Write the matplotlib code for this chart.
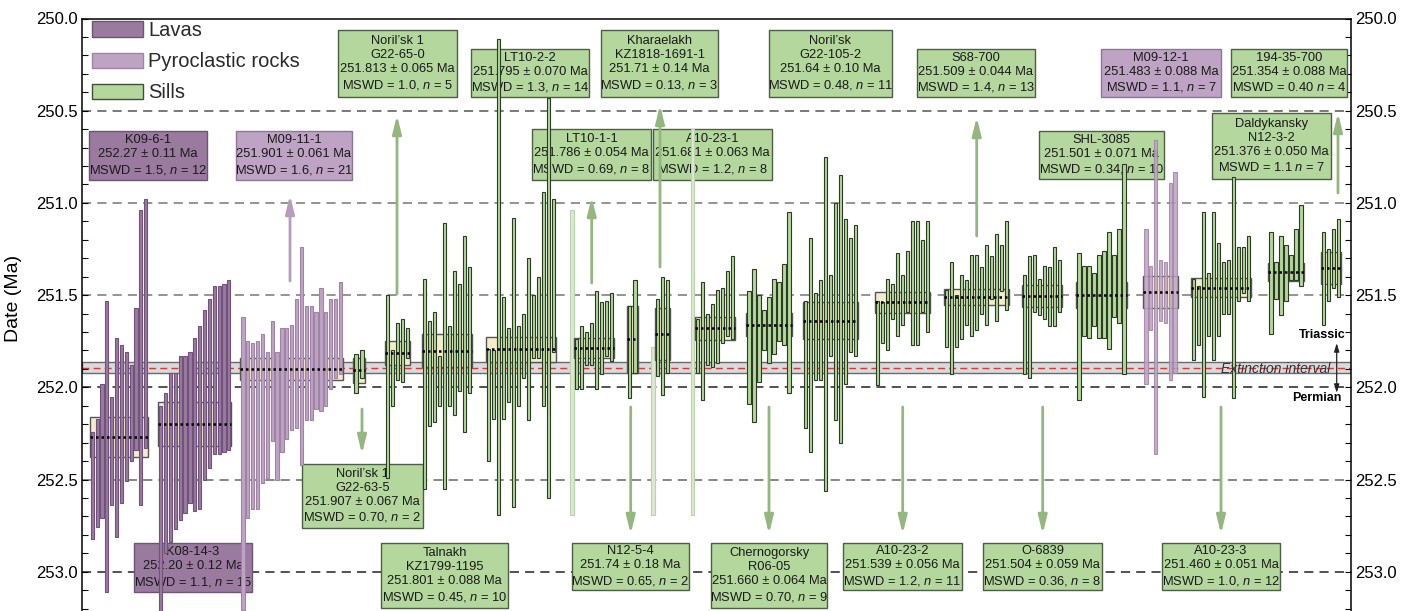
import numpy as np
import matplotlib
matplotlib.use('Agg')
import matplotlib.pyplot as plt
from matplotlib.patches import Rectangle, Patch
from matplotlib.ticker import MultipleLocator, FormatStrFormatter

plt.rcParams['font.family'] = ['Liberation Sans', 'DejaVu Sans']
plt.rcParams['mathtext.fontset'] = 'custom'
plt.rcParams['mathtext.it'] = 'Liberation Sans:italic'
plt.rcParams['mathtext.rm'] = 'Liberation Sans'

# ---- single zircon dates: (young end, old end) of the 2 sigma bar, Ma ----
k09_6_1 = [(252.24, 252.82), (252.17, 252.76), (251.98, 252.71), (251.53, 253.11),
           (252.05, 252.64), (251.73, 252.81), (251.77, 252.63), (251.81, 252.51),
           (251.88, 252.40), (251.57, 252.34), (251.04, 252.64), (250.98, 252.33)]
k08_14_3 = [(252.10, 253.25), (252.03, 252.90), (251.92, 252.84), (251.92, 252.77),
            (251.83, 252.72), (251.83, 252.68), (251.81, 252.63), (251.73, 252.67),
            (251.67, 252.66), (251.58, 252.50), (251.52, 252.44), (251.45, 252.36),
            (251.45, 252.36), (251.44, 252.35), (251.42, 252.34)]
m09_11_1 = [(251.62, 253.21), (251.75, 252.71), (251.76, 252.66), (251.75, 252.66),
            (251.71, 252.52), (251.81, 252.49), (251.64, 252.29), (251.81, 252.50),
            (251.68, 252.35), (251.68, 252.28), (251.66, 252.23), (251.52, 252.22),
            (251.24, 252.42), (251.56, 252.18), (251.56, 252.18), (251.59, 252.12),
            (251.46, 252.13), (251.59, 252.10), (251.52, 252.01), (251.52, 251.95),
            (251.43, 251.93)]
g22_63_5 = [(251.82, 252.03), (251.80, 251.95)]
g22_65_0 = [(251.50, 252.49), (251.80, 252.10), (251.65, 251.96), (251.63, 251.97),
            (251.68, 251.84)]
kz1799 = [(251.41, 252.55), (251.64, 252.21), (251.59, 252.19), (251.83, 252.10),
          (251.11, 252.55), (251.67, 252.10), (251.37, 252.15), (251.44, 252.02),
          (251.18, 252.24), (251.35, 252.03)]
lt10_2_2 = [(251.79, 252.40), (251.80, 252.17), (250.11, 252.69), (251.51, 252.17),
            (251.68, 252.08), (251.08, 252.65), (251.67, 252.10), (251.60, 251.95),
            (251.30, 252.18), (251.50, 251.84), (251.40, 251.84), (250.94, 252.10),
            (250.43, 252.60), (250.98, 251.81)]
lt10_1_1 = [(251.74, 252.01), (251.67, 252.01), (251.70, 251.88), (251.65, 251.88),
            (251.48, 252.01), (251.54, 251.93), (251.53, 251.83), (251.49, 251.86)]
n12_5_4 = [(251.56, 252.06), (251.42, 251.92)]
kz1818 = [(251.52, 251.94), (251.40, 252.04), (251.42, 251.92)]
a10_23_1 = [(251.63, 251.92), (251.43, 252.07), (251.60, 251.88), (251.55, 251.89),
            (251.47, 251.87), (251.46, 251.76), (251.37, 251.72), (251.29, 251.74)]
r06_05 = [(251.48, 252.09), (251.36, 252.19), (251.50, 251.97), (251.58, 251.80),
          (251.51, 251.87), (251.41, 251.82), (251.43, 251.75), (251.33, 251.77),
          (251.05, 252.03)]
g22_105_2 = [(251.53, 252.22), (251.19, 252.35), (251.49, 251.96), (251.42, 251.96),
             (250.75, 252.56), (251.39, 251.83), (251.00, 252.18), (250.85, 252.30),
             (251.09, 251.98), (251.19, 251.81), (251.12, 251.83)]
a10_23_2 = [(251.53, 251.99), (251.54, 251.76), (251.41, 251.80), (251.44, 251.63),
            (251.27, 251.72), (251.39, 251.66), (251.26, 251.59), (251.10, 251.77),
            (251.10, 251.77), (251.20, 251.59), (251.10, 251.70)]
s68_700 = [(251.47, 251.78), (251.32, 251.93), (251.50, 251.78), (251.39, 251.74),
           (251.42, 251.66), (251.28, 251.72), (251.28, 251.69), (251.35, 251.60),
           (251.23, 251.66), (251.29, 251.52), (251.17, 251.64), (251.23, 251.48),
           (251.10, 251.58)]
o_6839 = [(251.39, 251.93), (251.29, 251.95), (251.28, 251.59), (251.41, 251.61),
          (251.34, 251.63), (251.35, 251.67), (251.24, 251.67), (251.31, 251.59)]
shl_3085 = [(251.27, 252.07), (251.34, 251.72), (251.34, 251.73), (251.38, 251.67),
            (251.28, 251.73), (251.26, 251.73), (251.16, 251.79), (251.28, 251.62),
            (251.14, 251.65), (250.79, 251.93)]
m09_12_1 = [(251.14, 251.98), (251.34, 251.69), (250.66, 252.36), (251.31, 251.64),
            (251.32, 251.65), (250.89, 251.96), (250.83, 251.92)]
a10_23_3 = [(251.41, 251.85), (251.45, 251.77), (251.05, 252.05), (251.38, 251.72),
            (251.05, 251.85), (251.22, 251.72), (251.32, 251.60), (251.31, 251.60),
            (250.86, 252.06), (251.24, 251.53), (251.24, 251.49), (251.18, 251.53)]
n12_3_2 = [(251.16, 251.71), (251.32, 251.52), (251.18, 251.61), (251.23, 251.53),
           (251.28, 251.42), (251.14, 251.42), (251.01, 251.45)]
s194_35_700 = [(251.16, 251.66), (251.25, 251.53), (251.14, 251.46), (251.09, 251.51)]

# analyses left out of the means (pale bars)
excluded = [(251.04, 252.69), (251.78, 252.69), (250.60, 252.69)]

# ---- weighted means ----
names = ['K09-6-1', 'K08-14-3', 'M09-11-1', 'G22-63-5', 'G22-65-0', 'KZ1799-1195',
         'LT10-2-2', 'LT10-1-1', 'N12-5-4', 'KZ1818-1691-1', 'A10-23-1', 'R06-05',
         'G22-105-2', 'A10-23-2', 'S68-700', 'O-6839', 'SHL-3085', 'M09-12-1',
         'A10-23-3', 'N12-3-2', '194-35-700']
kinds = ['lava', 'lava', 'pyro', 'sill', 'sill', 'sill', 'sill', 'sill', 'sill', 'sill',
         'sill', 'sill', 'sill', 'sill', 'sill', 'sill', 'sill', 'pyro', 'sill', 'sill',
         'sill']
means = [252.27, 252.20, 251.901, 251.907, 251.813, 251.801, 251.795, 251.786, 251.74,
         251.71, 251.681, 251.660, 251.64, 251.539, 251.509, 251.504, 251.501, 251.483,
         251.460, 251.376, 251.354]
errs = [0.11, 0.12, 0.061, 0.067, 0.065, 0.088, 0.070, 0.054, 0.18, 0.14, 0.063, 0.064,
        0.10, 0.056, 0.044, 0.059, 0.071, 0.088, 0.051, 0.050, 0.088]
mswd = ['1.5,', '1.1,', '1.6,', '0.70,', '1.0,', '0.45,', '1.3,', '0.69,', '0.65,', '0.13,',
        '1.2,', '0.70,', '0.48,', '1.2,', '1.4,', '0.36,', '0.34,', '1.1,', '1.0,', '1.1',
        '0.40']
err_txt = ['0.11', '0.12', '0.061', '0.067', '0.065', '0.088', '0.070', '0.054', '0.18',
           '0.14', '0.063', '0.064', '0.10', '0.056', '0.044', '0.059', '0.071', '0.088',
           '0.051', '0.050', '0.088']
mean_txt = ['252.27', '252.20', '251.901', '251.907', '251.813', '251.801', '251.795',
            '251.786', '251.74', '251.71', '251.681', '251.660', '251.64', '251.539',
            '251.509', '251.504', '251.501', '251.483', '251.460', '251.376', '251.354']
localities = {'G22-63-5': "Noril\u2019sk 1", 'G22-65-0': "Noril\u2019sk 1",
              'KZ1799-1195': 'Talnakh', 'KZ1818-1691-1': 'Kharaelakh',
              'R06-05': 'Chernogorsky', 'G22-105-2': "Noril\u2019sk",
              'N12-3-2': 'Daldykansky'}
bar_sets = [k09_6_1, k08_14_3, m09_11_1, g22_63_5, g22_65_0, kz1799, lt10_2_2, lt10_1_1,
            n12_5_4, kz1818, a10_23_1, r06_05, g22_105_2, a10_23_2, s68_700, o_6839,
            shl_3085, m09_12_1, a10_23_3, n12_3_2, s194_35_700]

# ---- layout (picture pixels) ----
W, H = 1401, 611
X0, X1 = 82, 1351
Y_TOP, PX_TOP, PX_PER_MA = 250.0, 18.5, 184.4


def py(y):
    return Y_TOP + (y - PX_TOP) / PX_PER_MA


# first bar x and spacing of each group
bar_x0 = [92.3, 160.7, 243, 356, 387.7, 424.3, 488.3, 576.7, 629.3, 657.3, 697.3, 749,
          805.7, 877.7, 946.7, 1024.3, 1079, 1146, 1193.3, 1271, 1323.3]
bar_dx = [4.85, 4.87, 4.87, 6, 5, 5, 5, 5, 5.7, 5, 5, 5, 5, 5, 5, 5, 5, 4.83, 5, 5, 5]
excluded_x = [572, 653, 692.3]
# label boxes: left, right, top, bottom
label_box = [(89, 207, 131, 180), (134, 252, 543, 592), (236, 352, 131, 180),
             (302, 423, 464, 528), (338, 457, 30, 97), (381, 508, 543, 608),
             (471, 589, 49, 97), (532, 651, 129, 180), (572, 689, 543, 590),
             (601, 718, 30, 97), (653, 772, 129, 180), (711, 827, 543, 608),
             (769, 892, 30, 97), (843, 962, 543, 590), (917, 1035, 49, 97),
             (983, 1102, 543, 590), (1039, 1164, 131, 179), (1101, 1221, 49, 97),
             (1162, 1280, 543, 590), (1212, 1331, 113, 179), (1231, 1347, 49, 97)]
# arrows from group to its label: x, start y, end y, colour
arrows = [(290, 281, 195, 'pyro'), (397, 294, 115, 'sill'), (362, 409, 454, 'sill'),
          (591.7, 283, 197, 'sill'), (630.7, 407, 534, 'sill'), (660, 267, 105, 'sill'),
          (769, 407, 534, 'sill'), (902.7, 407, 534, 'sill'), (976.7, 236, 117, 'sill'),
          (1042.7, 407, 534, 'sill'), (1221, 407, 534, 'sill'), (1338, 193, 113, 'sill')]

face = {'lava': '#9b7a9f', 'pyro': '#bea3c4', 'sill': '#b3d79c'}
edge = {'lava': '#70537a', 'pyro': '#9e84a5', 'sill': '#2c3b24'}
box_edge = {'lava': '#6d5573', 'pyro': '#8c7792', 'sill': '#4d5e44'}
arrow_col = {'pyro': '#b59dbb', 'sill': '#93b77e'}

fig = plt.figure(figsize=(W / 100, H / 100), dpi=100)
ax = fig.add_axes([X0 / W, 0, (X1 - X0) / W, 1 - PX_TOP / H])
ax.set_xlim(X0, X1)
ax.set_ylim(py(H), Y_TOP)

# extinction interval band
ax.axhspan(251.861, 251.924, facecolor='#d9dadd', edgecolor='#6a6a6a', lw=1, zorder=1)
ax.axhline(251.897, color='#e0382e', lw=1, ls=(0, (5, 3)), zorder=1.2)

for yv, c in zip([250.5, 251.0, 251.5, 252.0, 252.5, 253.0],
                 ['#555555', '#777777', '#777777', '#222222', '#666666', '#222222']):
    ax.axhline(yv, color=c, lw=1.1, ls=(0, (6, 4)), zorder=1.5)

# labels
for i, nm in enumerate(names):
    l, r, t, b = label_box[i]
    ax.add_patch(Rectangle((l, py(t)), r - l, py(b) - py(t), facecolor=face[kinds[i]],
                           edgecolor=box_edge[kinds[i]], lw=1, zorder=2))
    lines = [nm, mean_txt[i] + ' \u00b1 ' + err_txt[i] + ' Ma',
             'MSWD = ' + mswd[i] + ' $n$ = ' + str(len(bar_sets[i]))]
    if nm in localities:
        lines = [localities[nm]] + lines
    ax.text((l + r) / 2, py((t + b) / 2), '\n'.join(lines), ha='center', va='center',
            fontsize=9.3, linespacing=1.22, color='#1a1a1a', zorder=2.1)

for x, y0, y1, k in arrows:
    ax.annotate('', xy=(x, py(y1)), xytext=(x, py(y0)), zorder=2.5,
                arrowprops=dict(arrowstyle='-|>,head_length=0.9,head_width=0.22',
                                color=arrow_col[k], lw=2, shrinkA=0, shrinkB=0,
                                mutation_scale=12))

# weighted mean boxes, single analyses, mean lines
bw = 3.2
for i, bars in enumerate(bar_sets):
    k = kinds[i]
    xs = bar_x0[i] + bar_dx[i] * np.arange(len(bars))
    left, right = xs[0] - 2.6, xs[-1] + 2.6
    ax.add_patch(Rectangle((left, means[i] - errs[i]), right - left, 2 * errs[i],
                           facecolor='#f4edcd', edgecolor='#555555', lw=1, zorder=3))
    tops = np.array([b[0] for b in bars])
    bots = np.array([b[1] for b in bars])
    alpha = 0.85 if names[i] == 'M09-12-1' else 1
    ax.bar(xs, bots - tops, bottom=tops, width=bw, color=face[k], edgecolor=edge[k],
           lw=0.8, alpha=alpha, zorder=4)
    ax.plot([left, right], [means[i], means[i]], color='black', lw=1.8,
            ls=(0, (1, 1.2)), zorder=5)

ex_t = np.array([e[0] for e in excluded])
ex_b = np.array([e[1] for e in excluded])
ax.bar(excluded_x, ex_b - ex_t, bottom=ex_t, width=bw, color='#dbe9d0',
       edgecolor='#bcd2ae', lw=0.8, zorder=2.2)

# Triassic / Permian
ax.text(1322, py(335), 'Triassic', fontsize=9, fontweight='bold', ha='center',
        va='center', zorder=6)
ax.text(1317, py(398), 'Permian', fontsize=9, fontweight='bold', ha='center',
        va='center', zorder=6)
ax.annotate('', xy=(1336.7, py(343)), xytext=(1336.7, py(393)), zorder=6,
            arrowprops=dict(arrowstyle='<|-|>,head_length=0.5,head_width=0.15',
                            color='#222222', lw=0.9, shrinkA=0, shrinkB=0,
                            mutation_scale=10))
ax.text(1276, py(369), 'Extinction interval', fontsize=10, style='italic', ha='center',
        va='center', color='#333333', zorder=6)

# legend
handles = [Patch(facecolor=face['lava'], edgecolor='#6d5573', label='Lavas'),
           Patch(facecolor=face['pyro'], edgecolor='#9e84a5', label='Pyroclastic rocks'),
           Patch(facecolor=face['sill'], edgecolor='#3f4f37', label='Sills')]
leg = ax.legend(handles=handles, loc='upper left', frameon=False, fontsize=14.5,
                bbox_to_anchor=((92 - X0) / (X1 - X0), 1 - (21 - PX_TOP) / (H - PX_TOP)),
                borderaxespad=0, borderpad=0, handlelength=2.55, handleheight=0.78,
                handletextpad=0.25, labelspacing=0.6)
for t in leg.get_texts():
    t.set_color('#2a2a2a')

# axes
ax.set_xticks([])
ax.yaxis.set_major_locator(MultipleLocator(0.5))
ax.yaxis.set_minor_locator(MultipleLocator(0.1))
ax.yaxis.set_major_formatter(FormatStrFormatter('%.1f'))
ax.tick_params(axis='y', which='both', direction='in', length=4.2, width=0.8,
               left=True, right=True, labelleft=True, labelright=True, labelsize=12,
               pad=3)
ax.spines['bottom'].set_visible(False)
for s in ['left', 'right', 'top']:
    ax.spines[s].set_linewidth(1.1)
ax.set_ylabel('Date (Ma)', fontsize=14)
ax.yaxis.set_label_coords((22 - X0) / (X1 - X0), 1 - (298 - PX_TOP) / (H - PX_TOP))

fig.savefig('out.png', dpi=100)
